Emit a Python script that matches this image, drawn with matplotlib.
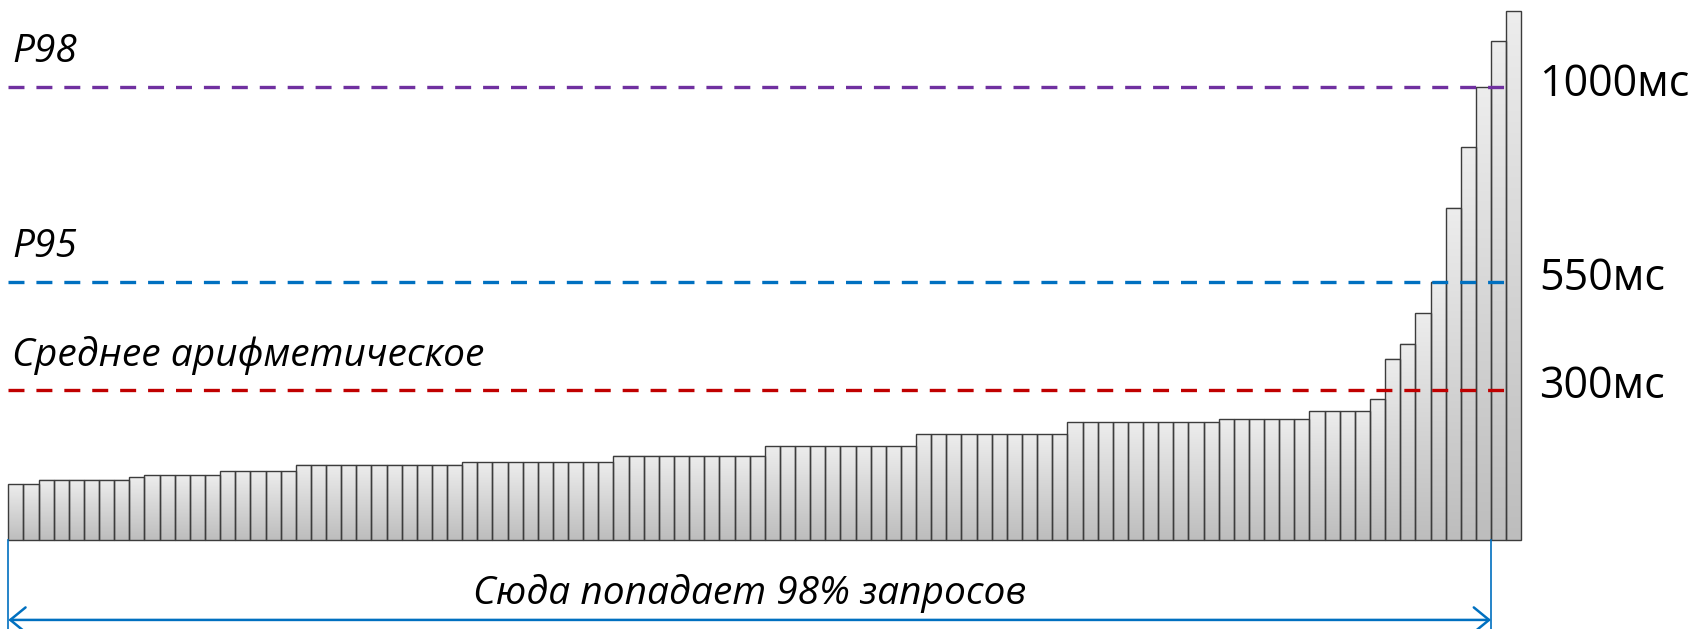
import matplotlib.pyplot as plt
import numpy as np
from matplotlib.colors import LinearSegmentedColormap

plt.rcParams['font.family'] = ['Open Sans', 'DejaVu Sans']
plt.rcParams['lines.scale_dashes'] = False

# sorted response times, ms (run-length: level, how many requests)
levels = [82, 92, 98, 102, 112, 127, 132, 148, 170, 197, 225, 232, 251,
          278, 372, 407, 477, 550, 721, 861, 1000, 1106, 1176]
counts = [2, 6, 1, 5, 5, 11, 10, 10, 10, 10, 10, 6, 4,
          1, 1, 1, 1, 1, 1, 1, 1, 1, 1]

line_names = ['P98', 'P95', 'Среднее арифметическое']
line_values = [1000, 550, 300]
line_labels = ['1000мс', '550мс', '300мс']
line_colors = ['#7030A0', '#0070C0', '#C00000']

covered = 98
caption = 'Сюда попадает 98% запросов'

times = np.repeat(levels, counts)
n = len(times)
base = -47  # floor the bars stand on

fig = plt.figure(figsize=(16.95, 6.29), dpi=100)
ax = fig.add_axes([0, 0, 1, 1])
ax.axis('off')

# each bar gets its own vertical grey gradient
grey = LinearSegmentedColormap.from_list('grey', ['#bdbdbd', '#ededed'])
grad = np.linspace(0, 1, 256).reshape(-1, 1)
for i, t in enumerate(times):
    ax.imshow(grad, cmap=grey, origin='lower', aspect='auto',
              extent=(i, i + 1, base, t), interpolation='bilinear', zorder=1)
ax.bar(np.arange(n), times - base, width=1, bottom=base, align='edge',
       facecolor='none', edgecolor='#3c3c3c', linewidth=1.0, zorder=2)

# percentile / mean lines
for name, val, lab, col in zip(line_names, line_values, line_labels, line_colors):
    ax.plot([0, n - 0.8], [val, val], color=col, linewidth=2.4,
            dashes=(11.5, 8.6), zorder=3)
    ax.annotate(name, (0, val), xytext=(3, 25), textcoords='offset points',
                fontsize=28, style='italic', va='center', ha='left')
    ax.annotate(lab, (n, val), xytext=(13, 2), textcoords='offset points',
                fontsize=31, va='center', ha='left')

# span of requests under P98
arrow_y = -232
ax.plot([0, 0], [base, -300], color='#0070C0', linewidth=1.2, zorder=3)
ax.plot([covered, covered], [base, -300], color='#0070C0', linewidth=1.2, zorder=3)
ax.annotate('', xy=(0, arrow_y), xytext=(covered, arrow_y),
            arrowprops=dict(arrowstyle='<->,head_length=0.55,head_width=0.45',
                            color='#0070C0', lw=1.8, mutation_scale=20,
                            shrinkA=0, shrinkB=0))
ax.annotate(caption, (covered / 2, arrow_y), xytext=(0, 19),
            textcoords='offset points', fontsize=28, style='italic',
            ha='center', va='center')

ax.set_xlim(-8.3 / 15.13, (1695 - 8.3) / 15.13)
ax.set_ylim(-253, 1201.4)

fig.savefig('out.png', dpi=100)
